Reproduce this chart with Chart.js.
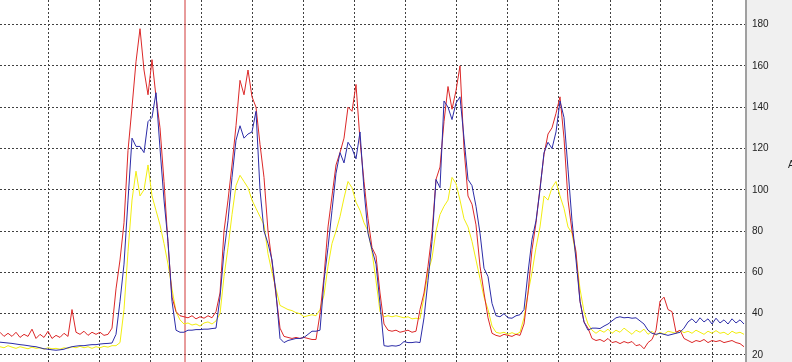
<!DOCTYPE html>
<html>
<head>
<meta charset="utf-8">
<script src="https://cdn.jsdelivr.net/npm/chart.js@4.4.0/dist/chart.umd.min.js"></script>
<style>
  html, body { margin: 0; padding: 0; background: #f0f0f0; overflow: hidden; }
</style>
</head>
<body>
<canvas id="chart" width="792" height="362"></canvas>
<script>
// one sample every 4 px of the original recording
const redPhase = [
  31, 29, 30.5, 29, 31, 28.5, 30, 29, 32.5, 28, 30, 28.5, 31.5, 28, 29.5, 28.5, 30.5, 29, 42, 31,
  30, 31.5, 29.5, 31, 30, 31, 29.5, 30, 33,
  52, 66, 84, 119, 140, 162, 178, 158, 146, 163, 145, 130, 104, 74, 48, 41, 39, 38.5, 38,
  39, 37.5, 38.5, 37.8, 39, 38, 41,
  50, 80, 95, 112, 131, 153, 146, 158, 145, 140, 122, 106, 80, 65, 49, 33, 29, 28.5, 28, 28.5,
  28, 28.5, 28, 27.5, 27.5, 40, 58, 82, 97, 112, 118, 125, 140, 138, 151, 124, 104, 86, 72,
  68, 50, 35, 32, 31.5, 32, 31, 31.5, 32, 31, 31.5, 42, 50, 63, 79, 105, 111, 133, 150, 139,
  148, 160, 120, 97, 93, 83, 63, 50, 38, 30.5, 29.5, 29, 30, 29.5, 29, 30, 29.5, 35, 50, 71,
  84, 101, 117, 127, 130, 137, 145,
  125, 95, 80, 70, 46, 36, 33, 28, 27, 27.5, 26.5, 28, 26, 26.5, 25.5, 26.5, 25.8, 26.5, 24.5, 25,
  23, 26, 27.5, 32, 46, 48, 42, 41, 31, 32, 28, 27, 26, 27, 26.5, 27.5, 26, 27, 26.5, 27,
  26, 26.5, 27, 26, 25.5, 24
];
const bluePhase = [
  26.2, 26, 25.8, 25.6, 25.3, 25, 24.8, 24.5, 24.2, 24, 23.5, 23, 22.8, 22.5, 22.3, 22.5, 22.8, 23.5, 24, 24.3,
  24.5, 24.5, 24.8, 25, 25, 25.3, 25.5, 25.6, 25.8,
  30, 46, 64, 95, 125, 121, 121, 118, 133, 135, 147, 120, 95, 75, 46, 32, 31, 31, 32,
  32, 32.3, 32.3, 32.5, 32.5, 32.8, 33,
  48, 70, 85, 106, 124, 131, 125, 127, 128, 138, 100, 80, 74, 66, 50, 28, 26, 27, 27.5, 28,
  28, 28.5, 30, 31.5, 31.5, 32, 56, 72, 90, 108, 118, 113, 123, 120, 115, 128, 100, 79, 71,
  64, 45, 24.5, 24.2, 24.5, 24.3, 24.8, 26.5, 26, 26, 26.3, 26, 38, 56, 75, 105, 101, 143, 140, 134,
  142, 145, 125, 105, 102, 92, 79, 62, 58, 45, 39, 38.5, 40, 38, 37.8, 39, 39.5, 42, 60, 76,
  85, 100, 118, 123, 120, 128, 143,
  135, 110, 85, 66, 46, 36, 32, 33, 33, 32.8, 34, 35, 36.5, 38, 38.5, 38, 38.2, 37.8, 38, 36.5,
  35, 32, 30.5, 30, 30.5, 30, 29.5, 30, 30.5, 31, 33, 36, 37.5, 35.5, 38, 36, 37.5, 35, 37.8, 35.5,
  37, 35, 37.5, 35.5, 37, 35
];
const yellowPhase = [
  24, 23.5, 24.5, 23.8, 23.2, 24, 23.5, 23, 23.8, 23.2, 23.5, 22.8, 23.5, 23, 23.2, 22.8, 23.5, 23.2, 24, 23.5,
  24.2, 23.5, 24, 23.2, 24, 23.5, 24.2, 23.8, 24.5,
  24.5, 26, 42, 70, 95, 109, 97, 100, 112, 97, 90, 83, 74, 64, 52, 41, 37, 35, 35.5,
  34.5, 35, 34, 35.5, 36, 35, 36.5,
  40, 58, 72, 88, 102, 107, 104, 101, 95, 91, 87, 83, 69, 60, 52, 44, 43, 42, 41.5, 40.5,
  40, 38.5, 39, 39.5, 39, 42, 49, 63, 74, 80, 87, 96, 104, 101, 94, 90, 84, 80, 70,
  56, 41, 38.5, 39, 38.5, 39, 38.5, 38, 38.5, 37.5, 37.8, 37.5, 48, 60, 67, 80, 88, 92, 95, 106,
  103, 95, 86, 82, 75, 66, 57, 48, 42, 34, 31, 30.5, 31, 30, 30.8, 30, 31, 38, 50, 60,
  72, 82, 97, 95, 101, 104, 97,
  91, 82, 79, 68, 52, 41, 35, 32, 30.5, 32, 31, 32.5, 30.5, 32, 31, 33, 31.5, 30, 32, 31,
  32.5, 30, 31.5, 29.5, 31, 30, 31.5, 31, 30.5, 32, 30.8, 31.5, 30.5, 32, 31, 30, 31.5, 30.5, 31.8, 30.5,
  31, 29.8, 31.5, 30.5, 31, 30
];

// sample positions of the vertical grid lines and of the cursor
const xGridTicks = [12, 24.8, 37.5, 50.3, 63.1, 75.9, 88.6, 101.4, 114.2, 126.9, 139.7, 152.5, 165.2, 178];
const cursorAt = 46.25;
const yMin = 16.6;
const yMax = 191.9;
const unitLabel = 'A';

function toPoints(values) {
    return values.map((v, i) => ({ x: i, y: v }));
}

const backdrop = {
    id: 'backdrop',
    beforeDraw(chart) {
        const { ctx, chartArea: a, width, height } = chart;
        ctx.save();
        ctx.fillStyle = '#f0f0f0';
        ctx.fillRect(0, 0, width, height);
        ctx.fillStyle = '#ffffff';
        ctx.fillRect(a.left, a.top, a.right - a.left, a.bottom - a.top);
        ctx.restore();
    },
    afterDraw(chart) {
        const ctx = chart.ctx;
        ctx.save();
        ctx.fillStyle = '#222';
        ctx.font = '10px "Liberation Sans"';
        ctx.textBaseline = 'middle';
        ctx.fillText(unitLabel, 788, 165);
        ctx.restore();
    }
};

const ctx = document.getElementById('chart').getContext('2d');
new Chart(ctx, {
    type: 'line',
    data: {
        datasets: [
            { data: toPoints(bluePhase), borderColor: '#2c2ca8' },
            { data: toPoints(redPhase), borderColor: '#dc2828' },
            { data: toPoints(yellowPhase), borderColor: '#f2ee10' },
            { data: [{ x: cursorAt, y: yMin }, { x: cursorAt, y: yMax }], borderColor: '#d03838' }
        ]
    },
    options: {
        responsive: false,
        animation: false,
        layout: { padding: 0 },
        elements: {
            line: { borderWidth: 1, tension: 0 },
            point: { radius: 0 }
        },
        plugins: {
            legend: { display: false },
            tooltip: { enabled: false }
        },
        scales: {
            x: {
                type: 'linear',
                min: 0,
                max: 186.5,
                ticks: { display: false },
                grid: { color: '#404040', lineWidth: 1, drawTicks: false },
                border: { display: false, dash: [2, 2] },
                afterBuildTicks: scale => { scale.ticks = xGridTicks.map(v => ({ value: v })); },
                afterFit: scale => {
                    scale.height = 0;
                    scale.paddingLeft = 0;
                    scale.paddingRight = 0;
                }
            },
            y: {
                position: 'right',
                min: yMin,
                max: yMax,
                ticks: {
                    stepSize: 20,
                    includeBounds: false,
                    padding: 6,
                    color: '#222',
                    font: { family: 'Liberation Sans', size: 10 }
                },
                grid: { color: '#404040', lineWidth: 1, drawTicks: false },
                border: { display: true, color: '#a0a0a0', width: 2, dash: [2, 2] },
                afterFit: scale => {
                    scale.width = 46;
                    scale.paddingTop = 0;
                    scale.paddingBottom = 0;
                }
            }
        }
    },
    plugins: [backdrop]
});
</script>
</body>
</html>
